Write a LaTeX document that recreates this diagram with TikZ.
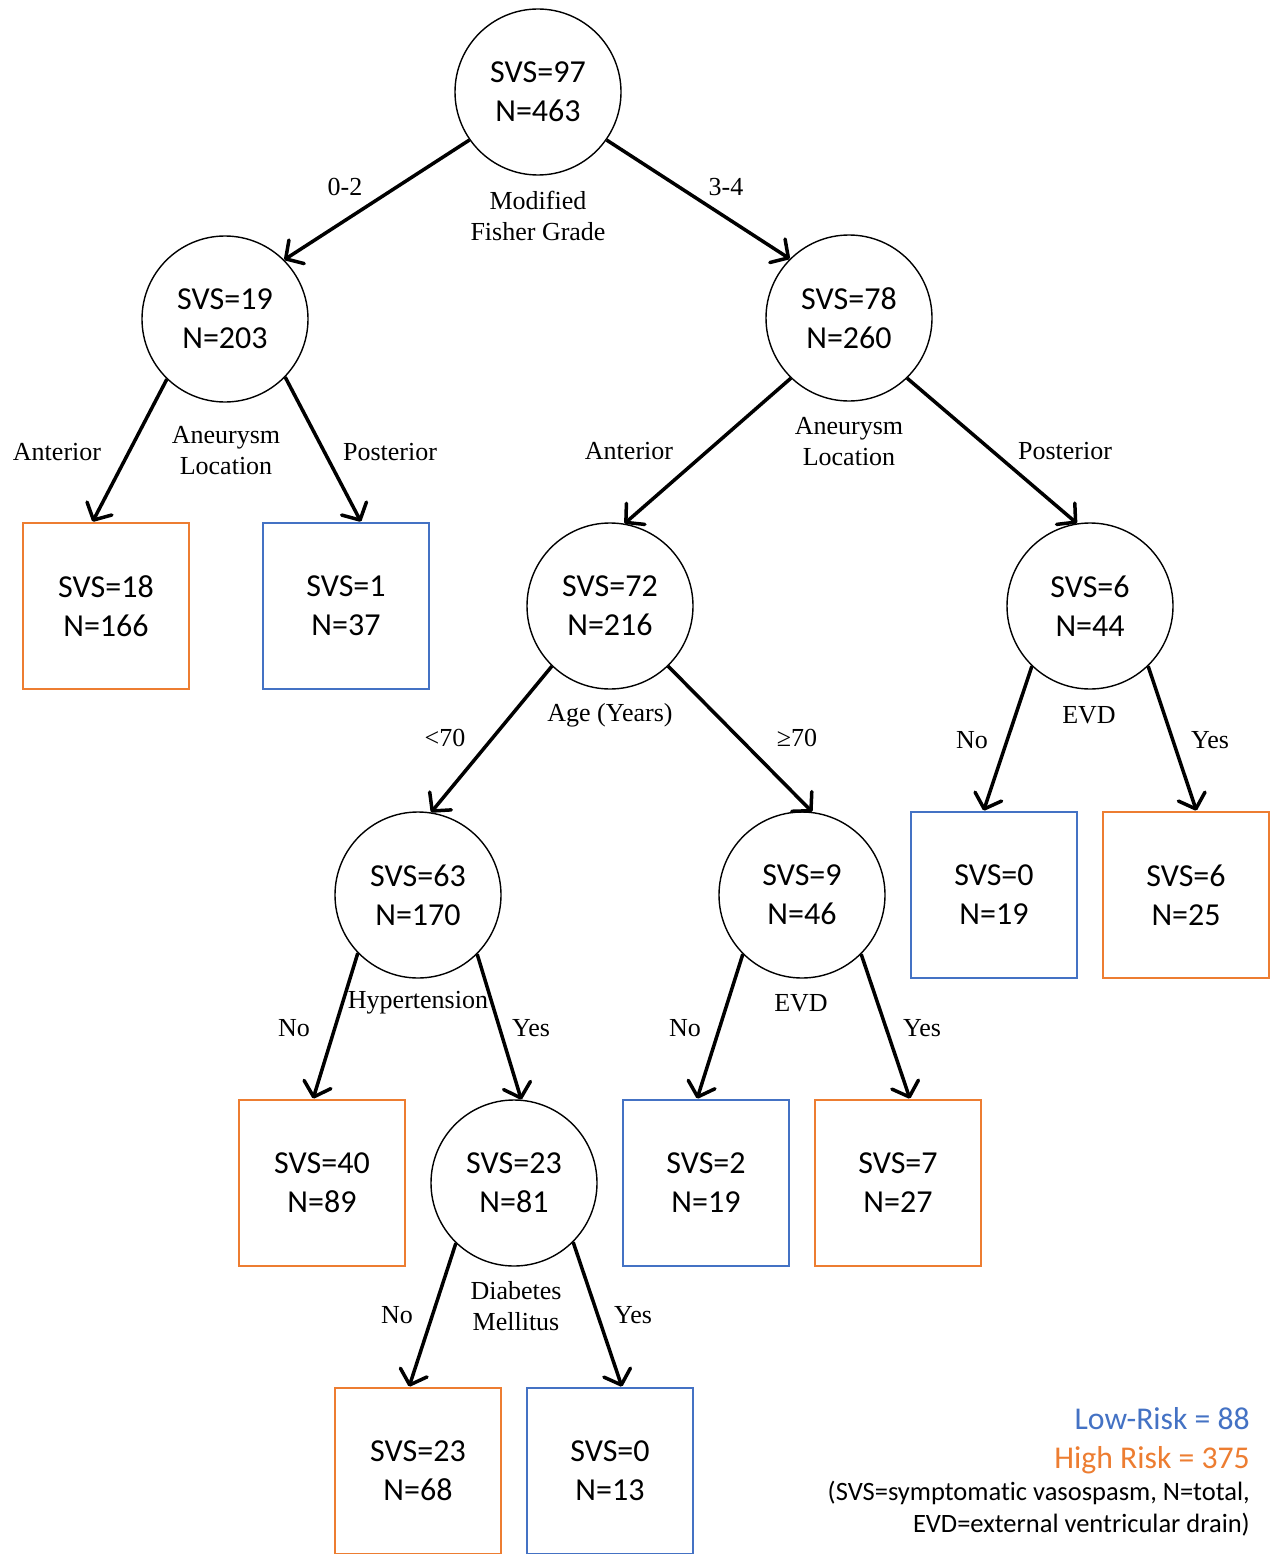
\documentclass[tikz,border=0pt]{standalone}
\usepackage{fontspec}
\setmainfont{Liberation Serif}
\newfontfamily\carl[Ligatures=NoCommon]{Carlito}
\usetikzlibrary{arrows.meta}
\definecolor{hiorange}{HTML}{ED7D31}
\definecolor{loblue}{HTML}{4472C4}
\begin{document}
\begin{tikzpicture}[x=1pt,y=-1pt,
  circ/.style={circle,draw,line width=1.4pt,minimum size=166pt,inner sep=0pt,align=center,font=\carl\fontsize{32}{39}\selectfont},
  leaf/.style={rectangle,draw,line width=2.8pt,minimum size=166pt,inner sep=0pt,align=center,font=\carl\fontsize{32}{39}\selectfont},
  hi/.style={leaf,draw=hiorange},
  lo/.style={leaf,draw=loblue},
  arr/.style={line width=3.5pt,-{Straight Barb[length=13pt,width=28pt,round]}},
  lab/.style={font=\fontsize{26}{31}\selectfont,align=center,inner sep=0pt}]
\useasboundingbox[fill=white] (0,0) rectangle (1270,1554);
% decision nodes
\node[circ] (root) at (538,92) {SVS=97\\N=463};
\node[circ] (A) at (225,319) {SVS=19\\N=203};
\node[circ] (B) at (849,318) {SVS=78\\N=260};
\node[circ] (C) at (610,606) {SVS=72\\N=216};
\node[circ] (D) at (1090,606) {SVS=6\\N=44};
\node[circ] (E) at (418,895) {SVS=63\\N=170};
\node[circ] (F) at (802,895) {SVS=9\\N=46};
\node[circ] (G) at (514,1183) {SVS=23\\N=81};
% leaves
\node[hi] (L1) at (106,606) {SVS=18\\N=166};
\node[lo] (L2) at (346,606) {SVS=1\\N=37};
\node[lo] (L3) at (994,895) {SVS=0\\N=19};
\node[hi] (L4) at (1186,895) {SVS=6\\N=25};
\node[hi] (L5) at (322,1183) {SVS=40\\N=89};
\node[lo] (L6) at (706,1183) {SVS=2\\N=19};
\node[hi] (L7) at (898,1183) {SVS=7\\N=27};
\node[hi] (L8) at (418,1471) {SVS=23\\N=68};
\node[lo] (L9) at (610,1471) {SVS=0\\N=13};
% connectors
\draw[arr] (root.215) -- (A.45);
\draw[arr] (root.325) -- (B.135);
\draw[arr] (A.226) -- (L1.99.6);
\draw[arr] (A.316) -- (L2.80.6);
\draw[arr] (B.226.4) -- (C.80.5);
\draw[arr] (B.314.5) -- (D.99.4);
\draw[arr] (C.226.4) -- (E.81);
\draw[arr] (C.314.5) -- (F.83.4);
\draw[arr] (D.226.4) -- (L3.97.2);
\draw[arr] (D.314.5) -- (L4.83.4);
\draw[arr] (E.224.5) -- (L5.96.6);
\draw[arr] (E.315) -- (G.85.4);
\draw[arr] (F.225.5) -- (L6.96);
\draw[arr] (F.315) -- (L7.82);
\draw[arr] (G.226) -- (L8.96.6);
\draw[arr] (G.315) -- (L9.82);
% labels
\node[lab] (l1) at (345,187) {0-2};
\node[lab] (l2) at (538,216) {Modified\\Fisher Grade};
\node[lab] (l3) at (726,187) {3-4};
\node[lab] (l4) at (57,452) {Anterior};
\node[lab] (l5) at (226,451) {Aneurysm\\Location};
\node[lab] (l6) at (390,452) {Posterior};
\node[lab] (l7) at (629,451) {Anterior};
\node[lab] (l8) at (849,442) {Aneurysm\\Location};
\node[lab] (l9) at (1065,451) {Posterior};
\node[lab] (l10) at (610,715) {Age (Years)};
\node[lab] (l11) at (445,738) {<70};
\node[lab] (l12) at (797,738) {≥70};
\node[lab] (l13) at (972,740) {No};
\node[lab] (l14) at (1089,715) {EVD};
\node[lab] (l15) at (1210,740) {Yes};
\node[lab] (l16) at (294,1028) {No};
\node[lab] (l17) at (418,1003) {Hypertension};
\node[lab] (l18) at (531,1028) {Yes};
\node[lab] (l19) at (685,1028) {No};
\node[lab] (l20) at (801,1003) {EVD};
\node[lab] (l21) at (922,1028) {Yes};
\node[lab] (l22) at (397,1315) {No};
\node[lab] (l23) at (516,1306) {Diabetes\\Mellitus};
\node[lab] (l24) at (633,1315) {Yes};
% legend
\node[anchor=base east,inner sep=0pt,text=loblue,font=\carl\fontsize{31.7}{37}\selectfont] (lg1) at (1250,1429) {Low-Risk = 88};
\node[anchor=base east,inner sep=0pt,text=hiorange,font=\carl\fontsize{31.7}{37}\selectfont] (lg2) at (1250,1468) {High Risk = 375};
\node[anchor=base east,inner sep=0pt,font=\carl\fontsize{26.5}{30}\selectfont] (lg3) at (1250,1500) {(SVS=symptomatic vasospasm, N=total,};
\node[anchor=base east,inner sep=0pt,font=\carl\fontsize{26.5}{30}\selectfont] (lg4) at (1250,1532) {EVD=external ventricular drain)};
\end{tikzpicture}
\end{document}
